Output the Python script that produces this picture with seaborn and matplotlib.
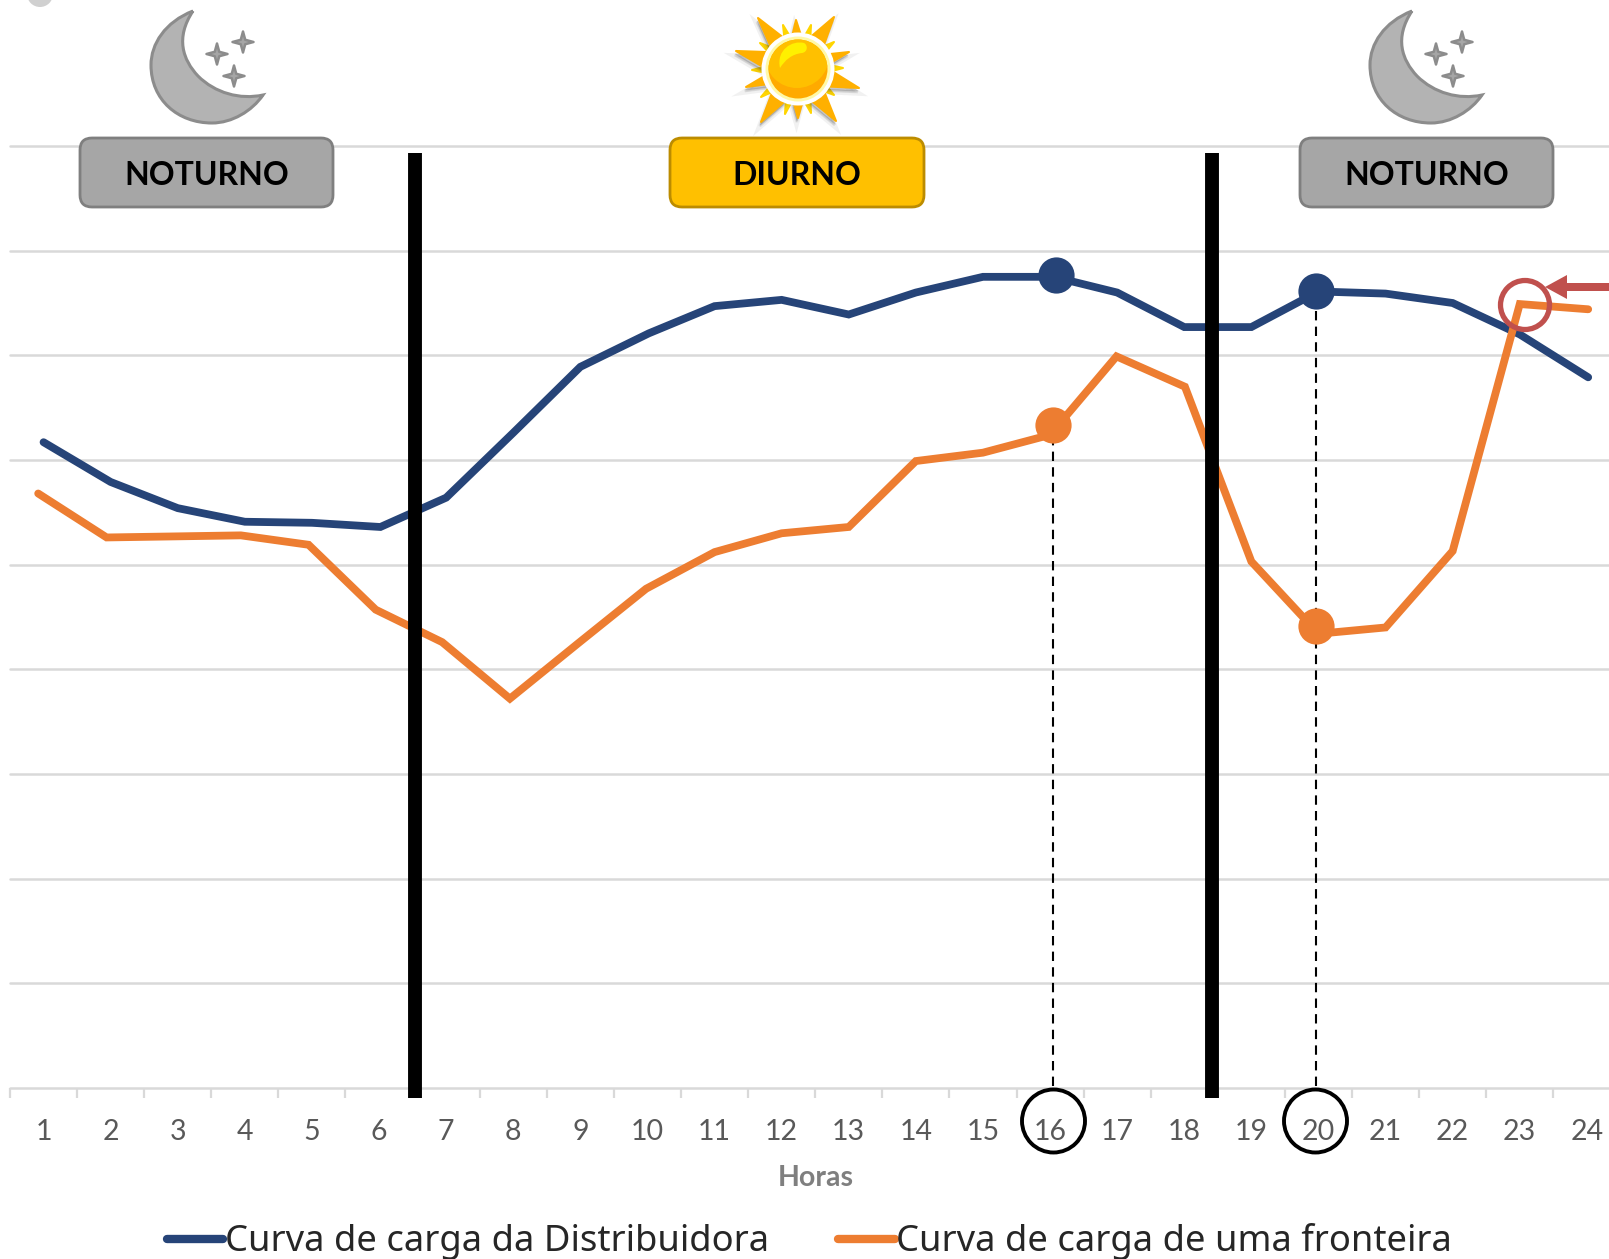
import numpy as np
import pandas as pd
import matplotlib
matplotlib.use("Agg")
import matplotlib.pyplot as plt
from matplotlib.lines import Line2D
from matplotlib.patches import Circle, FancyBboxPatch, PathPatch, Polygon
from matplotlib.path import Path
import seaborn as sns

# ---------- data ----------
hours = list(range(1, 25))
tick_labels = [str(h) for h in hours]
blue_name = "Curva de carga da Distribuidora"
orange_name = "Curva de carga de uma fronteira"
blue_x = [1.0, 2.0, 3.0, 4.0, 5.0, 6.02, 7.0, 8.0, 9.0, 10.02, 11.0, 12.0,
          13.0, 14.0, 15.0, 16.05, 17.0, 18.0, 19.0, 20.0, 21.0, 22.0, 23.0, 24.02]
blue_y = [6.17, 5.79, 5.54, 5.41, 5.40, 5.36, 5.64, 6.26, 6.89, 7.21, 7.47, 7.53,
          7.39, 7.60, 7.75, 7.75, 7.60, 7.27, 7.27, 7.61, 7.59, 7.50, 7.20, 6.79]
orange_x = [0.92, 1.94, 2.95, 3.94, 4.95, 5.95, 6.94, 7.95, 8.97, 9.98, 11.0, 12.0,
            13.0, 14.0, 15.0, 16.0, 16.99, 18.01, 19.0, 20.0, 21.0, 22.0, 23.0, 24.02]
orange_y = [5.68, 5.26, 5.27, 5.28, 5.19, 4.57, 4.26, 3.72, 4.25, 4.77, 5.12, 5.30,
            5.36, 5.99, 6.07, 6.24, 6.99, 6.70, 5.03, 4.34, 4.40, 5.13, 7.49, 7.44]
dots_blue_x = [16.09, 19.96]
dots_blue_y = [7.77, 7.61]
dots_orange_x = [16.05, 19.96]
dots_orange_y = [6.33, 4.41]
period_limits = [6.53, 18.41]
xlabel = "Horas"

BLUE, ORANGE = "#264478", "#ED7D31"
W, H = 1609, 1259
LATO = ["Lato", "DejaVu Sans"]

sns.set_theme(style="white")
plt.rcParams["font.family"] = LATO

fig = plt.figure(figsize=(W / 100, H / 100), dpi=100, facecolor="white")
ax = fig.add_axes([10 / W, (H - 1088) / H, (W - 10) / W, 942 / H])

df = pd.concat([
    pd.DataFrame({"hora": blue_x, "carga": blue_y, "curva": blue_name}),
    pd.DataFrame({"hora": orange_x, "carga": orange_y, "curva": orange_name}),
])
sns.lineplot(data=df, x="hora", y="carga", hue="curva", hue_order=[blue_name, orange_name],
             palette=[BLUE, ORANGE], linewidth=5.6, estimator=None, sort=False, ax=ax,
             legend=False, solid_capstyle="round", solid_joinstyle="miter", zorder=3,
             clip_on=False)

ax.vlines(dots_blue_x[0] - 0.04, 0.02, dots_orange_y[0], colors="black", lw=1.5,
          linestyles=(0, (4.5, 3)), zorder=2)
ax.vlines(dots_blue_x[1], 0.02, dots_blue_y[1], colors="black", lw=1.5,
          linestyles=(0, (4.5, 3)), zorder=2)

sns.scatterplot(x=dots_blue_x, y=dots_blue_y, color=BLUE, s=680, linewidth=0, ax=ax, zorder=5)
sns.scatterplot(x=dots_orange_x, y=dots_orange_y, color=ORANGE, s=680, linewidth=0, ax=ax, zorder=5)

ax.vlines(period_limits, -0.095, 8.93, colors="black", lw=10, zorder=6, clip_on=False)

ax.set_xlim(0.5, 0.5 + (W - 10) / 67.1)
ax.set_ylim(0, 9)
ax.set_yticks([])
ax.yaxis.grid(False)
for v in range(0, 10):
    ax.axhline(v, color="#D9D9D9", lw=1.8, zorder=1, clip_on=False)
for s in ax.spines.values():
    s.set_visible(False)
ax.set_xticks(hours)
ax.set_xticklabels(tick_labels, fontsize=20.5, color="#595959")
ax.set_xticks(np.arange(0.5, 24.5, 1), minor=True)
ax.tick_params(axis="x", which="major", length=0, pad=22)
ax.tick_params(axis="x", which="minor", length=7.5, width=1.6, color="#D9D9D9", bottom=True)
ax.set_ylabel("")
ax.set_xlabel(xlabel, fontsize=20.5, fontweight="bold", color="#7F7F7F")
ax.xaxis.set_label_coords((816 - 10) / (W - 10), -(1178 - 1088) / 942, transform=ax.transAxes)
ax.xaxis.label.set_verticalalignment("center")

handles = [Line2D([], [], color=BLUE, lw=6, solid_capstyle="round"),
           Line2D([], [], color=ORANGE, lw=6, solid_capstyle="round")]
leg = ax.legend(handles, [blue_name, orange_name], ncol=2, loc="center left",
                bbox_to_anchor=(167 / W, 1 - 1242 / H), bbox_transform=fig.transFigure,
                frameon=False, borderpad=0, borderaxespad=0, handlelength=1.55,
                handletextpad=0.04, columnspacing=1.9,
                prop={"family": ["Noto Sans", "DejaVu Sans"], "size": 26.2})
for t in leg.get_texts():
    t.set_color("#262626")

# ---------- annotation layer in pixel coordinates ----------
ov = fig.add_axes([0, 0, 1, 1], zorder=10)
ov.set_xlim(0, W)
ov.set_ylim(H, 0)
ov.axis("off")
ov.patch.set_alpha(0)


def label_box(x0, x1, text, face, edge):
    ov.add_patch(FancyBboxPatch((x0 + 12, 150), x1 - x0 - 24, 45,
                                boxstyle="round,pad=12,rounding_size=12",
                                fc=face, ec=edge, lw=2))
    ov.text((x0 + x1) / 2, 173, text, ha="center", va="center_baseline", fontsize=23,
            fontweight="bold", color="black")


def star(cx, cy, r=10.5, color="#8C8C8C"):
    pts = []
    for i in range(8):
        a = i * np.pi / 4
        rr = r if i % 2 == 0 else r * 0.3
        pts.append((cx + rr * np.cos(a), cy + rr * np.sin(a)))
    ov.add_patch(Polygon(pts, closed=True, fc="#A6A6A6", ec=color, lw=1.8, joinstyle="round"))


def moon(dx):
    verts = [(193, 11), (165, 22), (151, 44), (151, 65),
             (151, 100), (178, 123), (212, 123),
             (232, 123), (252, 111), (263, 95),
             (240, 100), (215, 93), (198, 76),
             (183, 60), (175, 38), (193, 11)]
    codes = [Path.MOVETO] + [Path.CURVE4] * 15
    v = [(x + dx, y) for x, y in verts]
    ov.add_patch(PathPatch(Path(v, codes), fc="#B3B3B3", ec="#8C8C8C", lw=2.2))
    star(217 + dx, 54)
    star(243 + dx, 42)
    star(234 + dx, 76)


def ray(tip, base_half, color, center=(798, 69), start=33, shadow=False):
    cx, cy = center
    tx, ty = tip
    a = np.arctan2(ty - cy, tx - cx)
    bx, by = cx + start * np.cos(a), cy + start * np.sin(a)
    nx, ny = -np.sin(a), np.cos(a)
    pts = [(tx, ty), (bx + nx * base_half, by + ny * base_half), (bx - nx * base_half, by - ny * base_half)]
    if shadow:
        for off, alpha, lw in [(5, 0.07, 4), (4, 0.10, 2), (3, 0.14, 0.5)]:
            ov.add_patch(Polygon([(x - off * 0.3, y + off) for x, y in pts], closed=True,
                                 fc="#404040", ec="#404040", lw=lw, alpha=alpha))
    ov.add_patch(Polygon(pts, closed=True, fc=color, ec=color, lw=1.5, joinstyle="round"))


def sun():
    big = [(758, 18), (834, 17), (736, 51), (859, 88), (761, 122), (836, 121)]
    mid = [(796, 20), (849, 52), (746, 87), (798, 118)]
    small = [(783, 25), (811, 25), (760, 43), (834, 42), (752, 70), (843, 68),
             (761, 97), (834, 95), (785, 114), (811, 113)]
    for p in small:
        ray(p, 3, "#FFD500")
    for p in mid:
        ray(p, 4.5, "#FFB000", shadow=True)
    for p in big:
        ray(p, 8, "#FFB000", shadow=True)
    ov.add_patch(Circle((798, 69), 36.5, fc="white", ec="none"))
    ov.add_patch(Circle((798, 69), 32.5, fc="#FFF9A8", ec="none"))
    ov.add_patch(Circle((798, 69), 29.5, fc="#FFAA00", ec="none"))
    clip = Circle((798, 69), 29.5, transform=ov.transData)
    body = Circle((797, 56), 32, fc="#FFC000", ec="none")
    ov.add_patch(body)
    body.set_clip_path(clip)
    verts = [(780, 68), (776, 50), (792, 40), (804, 43),
             (808, 45), (808, 52), (802, 53),
             (792, 54), (785, 60), (780, 68)]
    codes = [Path.MOVETO] + [Path.CURVE4] * 9
    ov.add_patch(PathPatch(Path(verts, codes), fc="#FFF000", ec="none"))


# grey remnant at the top edge
ov.add_patch(Circle((40, -6), 13, fc="#D0D0D0", ec="none"))

moon(0)
moon(1219)
sun()
label_box(80, 333, "NOTURNO", "#A6A6A6", "#7F7F7F")
label_box(670, 924, "DIURNO", "#FFC000", "#BC8C00")
label_box(1300, 1553, "NOTURNO", "#A6A6A6", "#7F7F7F")

# circled hour labels
for cx in (1053.5, 1315.5):
    ov.add_patch(Circle((cx, 1121), 31.5, fc="none", ec="black", lw=2.8))

# red circle and arrow
ov.add_patch(Circle((1525, 305), 24.5, fc="none", ec="#C0504D", lw=3.8))
ov.add_patch(Polygon([(1545, 287), (1567, 275), (1567, 283), (1609, 283), (1609, 291),
                      (1567, 291), (1567, 299)], closed=True, fc="#C0504D", ec="none"))

fig.savefig("out.png", dpi=100)
